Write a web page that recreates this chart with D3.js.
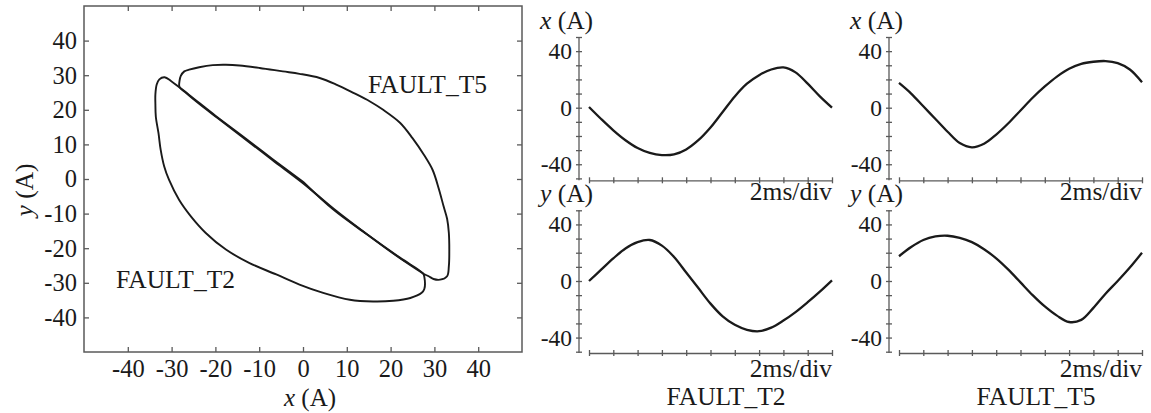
<!DOCTYPE html>
<html>
<head>
<meta charset="utf-8">
<script src="https://cdn.jsdelivr.net/npm/d3@7"></script>
<style>
  html, body { margin: 0; padding: 0; background: #fff; }
  svg { display: block; font-family: "Liberation Serif", "Times New Roman", serif; }
</style>
</head>
<body>
<svg id="chart" width="1151" height="413"></svg>
<script>
// ---- data -------------------------------------------------------------
// Sampling grid of the waveform panels, in divisions (2 ms per division)
const timeDiv = [0, 0.5, 1, 1.5, 2, 2.5, 3, 3.5, 4, 4.5, 5, 5.5, 6, 6.5, 7, 7.5, 8, 8.5, 9, 9.5, 10];
const divTicks = [0, 1, 2, 3, 4, 5, 6, 7, 8, 9, 10];

// FAULT_T2 currents (A)
const t2X = [0.5, -8, -16, -23, -28.5, -32, -33.5, -33, -29.5, -23, -14, -3, 8, 17, 23, 27, 28.5, 25, 17, 8, 0];
const t2Y = [0, 8, 16, 23, 27.5, 29, 25, 17, 6, -5, -16, -25, -31, -34.5, -35.5, -33, -28, -22, -15, -7.5, 0.5];

// FAULT_T5 currents (A)
const t5X = [17.5, 10, 1, -8, -17, -25, -28, -25.5, -19, -11, -2, 7, 15, 22, 27.5, 31, 32.5, 33, 31.5, 27, 18];
const t5Y = [17.5, 24, 29, 31.5, 32, 30.5, 27.5, 22.5, 16, 8, -1, -10, -18, -24.5, -29, -27.5, -19, -9, 0, 9.5, 20];

// x-y trajectories (A, A)
const loopT2 = [
  [0, -0.8], [-7, 5.8], [-14, 12.6], [-20, 18.3], [-26, 24.3], [-30, 28.2], [-31.6, 29.4],
  [-32.8, 28.8], [-33.4, 27.3], [-33.7, 24.5], [-33.7, 21.6], [-33.6, 18], [-33.0, 13.3],
  [-32.5, 8.5], [-31.7, 3.7], [-30.6, -0.2], [-28.3, -6], [-25.6, -10.8], [-22.2, -15.6],
  [-17.6, -20.4], [-12.2, -24.3], [-6.1, -27.6], [-0.8, -30.5], [4.6, -32.9], [10.7, -34.9],
  [16, -35.4], [20.6, -35.2], [24.5, -34.4], [27.1, -32.9], [27.7, -31.8], [27.7, -28.3],
  [27.4, -27.3], [22.2, -22.8], [14.5, -15.9], [7, -8.9], [0, -0.8]
];
const loopT5 = [
  [27.5, -27.4], [21, -21.9], [14, -15.4], [7, -8.6], [0, -1.2], [-7, 5.5], [-14, 12.3],
  [-19.5, 17.6], [-24, 22], [-27, 25.2], [-28.2, 26.6], [-28.2, 28.3], [-27.9, 29.8],
  [-27.1, 31.1], [-26, 31.6], [-23.7, 32.3], [-20.6, 32.9], [-17.6, 33.0], [-14.5, 32.8],
  [-9.9, 32.1], [-4.6, 31.1], [-0.8, 30.4], [3.8, 29.2], [7.6, 27.3], [11.5, 24.9],
  [15.3, 22.4], [18.3, 20.0], [22.2, 16.2], [25.0, 11.8], [27.6, 7.0], [29.6, 2.6],
  [31.0, -2.8], [32.1, -7.9], [32.9, -11.5], [33.3, -15.6], [33.4, -21.4], [33.3, -25.2],
  [32.9, -28.1], [31.3, -29.1], [29.8, -28.9], [28.7, -28.1], [27.5, -27.4]
];

const xyTicks = [-40, -30, -20, -10, 0, 10, 20, 30, 40];
const panelTicks = [-50, -40, -30, -20, -10, 0, 10, 20, 30, 40, 50];
const panelLabelled = [40, 0, -40];

// ---- drawing ----------------------------------------------------------
const svg = d3.select("#chart");
const ink = "#1a1a1a";
const axisGrey = "#5a5a5a";
const serif = "Liberation Serif, Times New Roman, serif";

// Left: x-y plane
const xL = d3.scaleLinear().domain([-50, 50]).range([84, 522]);
const yL = d3.scaleLinear().domain([-50, 50]).range([352, 6]);

const left = svg.append("g");

function styleAxis(g, size) {
  g.select(".domain").remove();
  g.selectAll(".tick line").attr("stroke", axisGrey).attr("stroke-width", 1.3);
  g.selectAll(".tick text").attr("fill", ink).attr("font-size", size).attr("font-family", serif);
}

left.append("g").attr("transform", `translate(0,${yL(-50)})`)
  .call(d3.axisBottom(xL).tickValues(xyTicks).tickSize(-5).tickPadding(8).tickFormat(d => String(d)))
  .call(g => styleAxis(g, 24.5));
left.append("g").attr("transform", `translate(0,${yL(50)})`)
  .call(d3.axisTop(xL).tickValues(xyTicks).tickSize(-5).tickFormat(""))
  .call(g => styleAxis(g, 24));
left.append("g").attr("transform", `translate(${xL(-50)},0)`)
  .call(d3.axisLeft(yL).tickValues(xyTicks).tickSize(-5).tickPadding(7).tickFormat(d => String(d)))
  .call(g => styleAxis(g, 24.5));
left.append("g").attr("transform", `translate(${xL(50)},0)`)
  .call(d3.axisRight(yL).tickValues(xyTicks).tickSize(-5).tickFormat(""))
  .call(g => styleAxis(g, 24));

left.append("rect")
  .attr("x", xL(-50)).attr("y", yL(50))
  .attr("width", xL(50) - xL(-50)).attr("height", yL(-50) - yL(50))
  .attr("fill", "none").attr("stroke", axisGrey).attr("stroke-width", 1.5);

const loopLine = d3.line()
  .x(d => xL(d[0]))
  .y(d => yL(d[1]))
  .curve(d3.curveCatmullRom.alpha(0.5));

[loopT2, loopT5].forEach(pts => {
  left.append("path").attr("d", loopLine(pts))
    .attr("fill", "none").attr("stroke", ink).attr("stroke-width", 1.9)
    .attr("stroke-linejoin", "round");
});

left.append("text").attr("x", 368).attr("y", 93).attr("font-size", 25.5).attr("fill", ink).text("FAULT_T5");
left.append("text").attr("x", 116).attr("y", 288).attr("font-size", 25.5).attr("fill", ink).text("FAULT_T2");

// axis titles
const xTitle = left.append("text").attr("x", xL(0) + 7).attr("y", 406)
  .attr("text-anchor", "middle").attr("font-size", 25).attr("fill", ink);
xTitle.append("tspan").attr("font-style", "italic").text("x");
xTitle.append("tspan").text(" (A)");

const yTitle = left.append("text").attr("transform", "translate(33,190) rotate(-90)")
  .attr("text-anchor", "middle").attr("font-size", 25.5).attr("fill", ink);
yTitle.append("tspan").attr("font-style", "italic").text("y");
yTitle.append("tspan").text(" (A)");

// Right: time waveforms
const panels = [
  { col: 0, row: 0, values: t2X, name: "x" },
  { col: 0, row: 1, values: t2Y, name: "y", caption: "FAULT_T2" },
  { col: 1, row: 0, values: t5X, name: "x" },
  { col: 1, row: 1, values: t5Y, name: "y", caption: "FAULT_T5" }
];
const rowLayout = [
  { zero: 107.7, base: 180.3, divLabel: 200 },
  { zero: 281.0, base: 353.0, divLabel: 377 }
];

panels.forEach(p => {
  const axisX = 579 + 310 * p.col;
  const rl = rowLayout[p.row];
  const y = d3.scaleLinear().domain([-50, 50]).range([rl.zero + 70.7, rl.zero - 70.7]);
  const t = d3.scaleLinear().domain([0, 10]).range([axisX + 10, axisX + 253]);
  const g = svg.append("g");

  // vertical axis with ticks crossing the line
  g.append("line").attr("x1", axisX).attr("x2", axisX)
    .attr("y1", y(50)).attr("y2", rl.base)
    .attr("stroke", axisGrey).attr("stroke-width", 1.3);
  const ya = g.append("g").attr("transform", `translate(${axisX},0)`)
    .call(d3.axisLeft(y).tickValues(panelTicks).tickSize(3).tickPadding(4)
      .tickFormat(d => panelLabelled.includes(d) ? String(d) : ""));
  styleAxis(ya, 23.5);
  ya.selectAll(".tick line").attr("x1", 3);

  // time axis
  const ta = g.append("g").attr("transform", `translate(0,${rl.base})`)
    .call(d3.axisBottom(t).tickValues(divTicks).tickSize(3).tickFormat("").tickSizeOuter(0));
  ta.select(".domain").attr("stroke", axisGrey).attr("stroke-width", 1.3);
  ta.selectAll(".tick line").attr("stroke", axisGrey).attr("stroke-width", 1.3).attr("y1", -3);

  // waveform
  const wave = d3.line().x((d, i) => t(timeDiv[i])).y(d => y(d)).curve(d3.curveCatmullRom.alpha(0.5));
  g.append("path").attr("d", wave(p.values))
    .attr("fill", "none").attr("stroke", ink).attr("stroke-width", 2.3)
    .attr("stroke-linejoin", "round");

  // labels
  const nm = g.append("text").attr("x", axisX - 39).attr("y", y(50) - 8)
    .attr("font-size", 25.5).attr("fill", ink);
  nm.append("tspan").attr("font-style", "italic").text(p.name);
  nm.append("tspan").text(" (A)");

  g.append("text").attr("x", axisX + 253).attr("y", rl.divLabel)
    .attr("text-anchor", "end").attr("font-size", 25.5).attr("fill", ink).text("2ms/div");

  if (p.caption) {
    g.append("text").attr("x", axisX + 147).attr("y", 405)
      .attr("text-anchor", "middle").attr("font-size", 25.5).attr("fill", ink).text(p.caption);
  }
});
</script>
</body>
</html>
